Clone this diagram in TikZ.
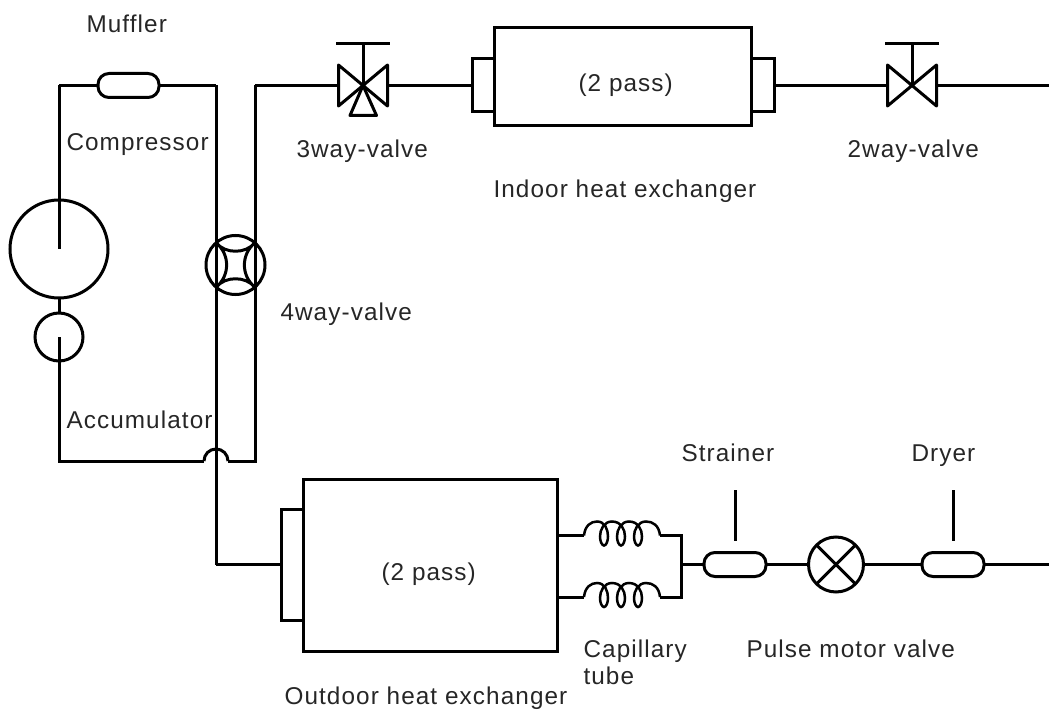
\documentclass[tikz,border=0pt]{standalone}
\usepackage{fontspec}
\setmainfont[LetterSpace=4.5]{Liberation Sans}
\begin{document}
\begin{tikzpicture}[x=1pt,y=-1pt,line width=3pt,line join=miter,
  ring/.style={draw,circle,inner sep=0pt,outer sep=0pt},
  hx/.style={draw,rectangle,inner sep=0pt,outer sep=0pt},
  capsule/.style={draw,rectangle,rounded corners=11pt,minimum width=61pt,minimum height=24pt,inner sep=0pt,outer sep=0pt},
  lbl/.style={inner sep=0pt,font=\fontsize{24.3}{28}\selectfont,text=black!85,align=left}]
\useasboundingbox (0,0) rectangle (1049,711);
% junction corners
\coordinate (tl) at (59,85.5);
\coordinate (cc) at (59,249);
\coordinate (ac) at (59,337);
\coordinate (bl) at (59,461);
\coordinate (jl) at (204,461);
\coordinate (jr) at (228,461);
\coordinate (br) at (255,461);
\coordinate (tr) at (255,85.5);
\coordinate (mr) at (216,85.5);
\coordinate (ob) at (216,564.5);
\coordinate (endA) at (1049,85.5);
\coordinate (endB) at (1049,564.5);
% compressor, accumulator, muffler
\node[ring,minimum size=98pt] (comp) at (59,249) {};
\node[ring,minimum size=48pt] (accu) at (59,337) {};
\node[capsule] (muff) at (128.5,85.5) {};
\draw (tl) -- (muff.west);
\draw (muff.east) -- (mr);
\draw (cc) -- (tl);
\draw (comp.south) -- (accu.north);
\draw (ac) -- (bl) -- (jl);
\draw (jl) arc[start angle=180,end angle=0,radius=12pt];
\draw (jr) -- (br) -- (tr);
\draw (mr) -- (ob);
% 4-way valve
\node[ring,minimum size=59pt] (fv) at (235.5,265) {};
\coordinate (q1) at (216.5,243);
\coordinate (q2) at (254.5,243);
\coordinate (q3) at (254.5,287);
\coordinate (q4) at (216.5,287);
\draw[line join=round] (q1) .. controls (225,254) and (246,254) .. (q2)
      .. controls (241,255) and (241,275) .. (q3)
      .. controls (246,276) and (225,276) .. (q4)
      .. controls (230,275) and (230,255) .. (q1);
% 3-way valve
\coordinate (v3) at (363,85.5);
\coordinate (v3stem) at (363,43.5);
\coordinate (v3a) at (336,43.5);
\coordinate (v3b) at (389.5,43.5);
\coordinate (v3l) at (338.5,85.5);
\coordinate (v3r) at (387.5,85.5);
\draw[line join=round] (v3) -- (338.5,65) -- (338.5,106) -- cycle;
\draw[line join=round] (v3) -- (387.5,65) -- (387.5,106) -- cycle;
\draw[line join=round] (v3) -- (350,115.5) -- (376.5,115.5) -- cycle;
\draw (v3) -- (v3stem);
\draw (v3a) -- (v3b);
% indoor exchanger
\node[hx,minimum width=257pt,minimum height=98pt] (ind) at (622.5,77) {};
\node[hx,minimum width=22pt,minimum height=53pt,anchor=east] (indL) at (ind.west |- 0,85.5) {};
\node[hx,minimum width=23pt,minimum height=53pt,anchor=west] (indR) at (ind.east |- 0,85.5) {};
\draw (tr) -- (v3l);
\draw (v3r) -- (indL.west);
% 2-way valve
\coordinate (v2) at (912,85.5);
\coordinate (v2stem) at (912,43.5);
\coordinate (v2a) at (885,43.5);
\coordinate (v2b) at (938.5,43.5);
\coordinate (v2l) at (887.5,85.5);
\coordinate (v2r) at (936.5,85.5);
\draw[line join=round] (v2) -- (887.5,65) -- (887.5,106) -- cycle;
\draw[line join=round] (v2) -- (936.5,65) -- (936.5,106) -- cycle;
\draw (v2) -- (v2stem);
\draw (v2a) -- (v2b);
\draw (indR.east) -- (v2l);
\draw (v2r) -- (endA);
% outdoor exchanger
\node[hx,minimum width=254pt,minimum height=172pt] (outd) at (430,565) {};
\node[hx,minimum width=22pt,minimum height=111pt,anchor=east] (outdS) at (outd.west |- 0,564.5) {};
\draw (ob) -- (outdS.west);
% capillary tubes
\coordinate (c1a) at (557,535.5);
\coordinate (c1b) at (584,535.5);
\coordinate (c1c) at (660,535.5);
\coordinate (c2a) at (557,597);
\coordinate (c2b) at (584,597);
\coordinate (c2c) at (660,597);
\coordinate (par1) at (681,535.5);
\coordinate (par2) at (681,597);
\coordinate (parm) at (681,564.5);
\foreach \s in {c1b,c2b}{
  \begin{scope}[shift={(\s)},line width=2.5pt]
    \draw (0,0) .. controls (1,-10) and (7,-14) .. (13,-14)
      .. controls (21,-14) and (24,-6) .. (24,1)
      .. controls (24,6) and (22,10) .. (20,10)
      .. controls (18,10) and (16,6) .. (16,1)
      .. controls (16,-6) and (20,-14) .. (28,-14)
      .. controls (37,-14) and (41,-6) .. (41,1)
      .. controls (41,6) and (39,10) .. (37,10)
      .. controls (35,10) and (33,6) .. (33,1)
      .. controls (33,-6) and (37,-14) .. (45,-14)
      .. controls (54,-14) and (58,-6) .. (58,1)
      .. controls (58,6) and (56,10) .. (54,10)
      .. controls (52,10) and (50,6) .. (50,1)
      .. controls (50,-6) and (54,-14) .. (62,-14)
      .. controls (69,-14) and (75,-10) .. (76,0);
  \end{scope}}
\draw (c1a) -- (c1b);
\draw (c2a) -- (c2b);
\draw (c1c) -- (par1) -- (par2) -- (c2c);
% strainer, pmv, dryer
\node[capsule,minimum width=62pt] (stra) at (735,564.5) {};
\node[ring,minimum size=55pt] (pmv) at (836,564.5) {};
\node[capsule,minimum width=62pt] (drye) at (953,564.5) {};
\coordinate (st1) at (735,490);
\coordinate (st2) at (735,541);
\coordinate (dr1) at (953,490);
\coordinate (dr2) at (953,541);
\draw (st1) -- (st2);
\draw (dr1) -- (dr2);
\draw (parm) -- (stra.west);
\draw (stra.east) -- (pmv.west);
\draw (pmv.east) -- (drye.west);
\draw (drye.east) -- (endB);
\draw (pmv.north west) -- (pmv.south east);
\draw (pmv.north east) -- (pmv.south west);
% labels
\node[lbl,anchor=base west] (t1) at (85,33) {Muffler};
\node[lbl,anchor=base west] (t2) at (65,151) {Compressor};
\node[lbl,anchor=base west] (t3) at (295,158) {3way-valve};
\node[lbl,anchor=base west] (t4) at (846,158) {2way-valve};
\node[lbl,anchor=base west] (t5) at (492,198) {Indoor heat exchanger};
\node[lbl,anchor=base west] (t6) at (279,320) {4way-valve};
\node[lbl,anchor=base west] (t7) at (65,428) {Accumulator};
\node[lbl,anchor=base west] (t8) at (680,461) {Strainer};
\node[lbl,anchor=base west] (t9) at (910,461) {Dryer};
\node[lbl,anchor=base west] (t10) at (577,92) {(2 pass)};
\node[lbl,anchor=base west] (t11) at (380,580) {(2 pass)};
\node[lbl,anchor=base west] (t12) at (582,657) {Capillary};
\node[lbl,anchor=base west] (t13) at (582,684) {tube};
\node[lbl,anchor=base west] (t14) at (745,657) {Pulse motor valve};
\node[lbl,anchor=base west] (t15) at (283,704) {Outdoor heat exchanger};
\end{tikzpicture}
\end{document}
